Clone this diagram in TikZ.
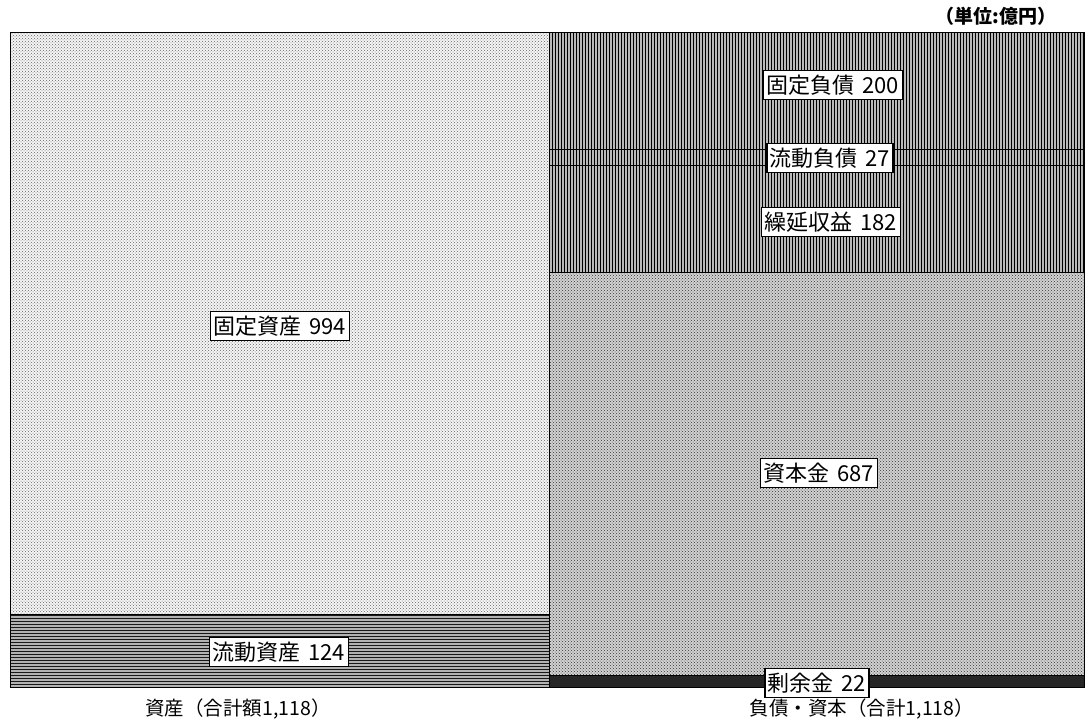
\documentclass[tikz,border=0pt]{standalone}
\usepackage{fontspec}
\newfontfamily\jp{Noto Sans CJK JP}
\usetikzlibrary{patterns}
\tikzset{
  lbl/.style={draw=black, line width=1.2pt, fill=white, inner xsep=3pt, inner ysep=4pt, font=\jp\fontsize{22}{22}\selectfont},
  captxt/.style={font=\jp\fontsize{19.5}{19.5}\selectfont},
  blk/.style={draw=black, line width=0.8pt},
}
\newcommand{\lblgap}{\hspace{0.35em}}
\begin{document}
\begin{tikzpicture}[x=1pt,y=-1pt]
\useasboundingbox (0,0) rectangle (1086,721);
% left column
\fill[gray!8] (10,32) rectangle (549,614);
\fill[pattern=crosshatch dots, pattern color=black!60] (10,32) rectangle (549,614);
\fill[gray!60] (10,614) rectangle (549,687);
\fill[pattern=horizontal lines, pattern color=black!90] (10,614) rectangle (549,687);
\draw[blk] (10,32) rectangle (549,687);
\draw[blk] (10,614) -- (549,614);
% right column
\fill[gray!55] (549,32) rectangle (1084,272);
\fill[pattern=vertical lines, pattern color=black] (549,32) rectangle (1084,272);
\fill[gray!35] (549,272) rectangle (1084,675);
\fill[pattern=crosshatch dots, pattern color=black!80] (549,272) rectangle (1084,675);
\fill[black!85] (549,675) rectangle (1084,687);
\draw[blk] (549,32) rectangle (1084,687);
\draw[blk] (549,149) -- (1084,149);
\draw[blk] (549,165) -- (1084,165);
\draw[blk] (549,272) -- (1084,272);
\draw[blk] (549,675) -- (1084,675);
% labels
\node[lbl] (fa) at (280,326) {固定資産\lblgap 994};
\node[lbl] (ca) at (279,652) {流動資産\lblgap 124};
\node[lbl] (fl) at (833,85) {固定負債\lblgap 200};
\node[lbl] (cl) at (830,158) {流動負債\lblgap 27};
\node[lbl] (dr) at (831,222) {繰延収益\lblgap 182};
\node[lbl] (cp) at (819,473) {資本金\lblgap 687};
\node[lbl] (sp) at (817,683) {剰余金\lblgap 22};
% captions
\node[captxt] (c1) at (238,709) {資産（合計額1,118）};
\node[captxt] (c2) at (862,709) {負債・資本（合計1,118）};
\node[font=\jp\bfseries\fontsize{19}{19}\selectfont] (unit) at (996,16) {（単位:億円）};
\end{tikzpicture}
\end{document}
